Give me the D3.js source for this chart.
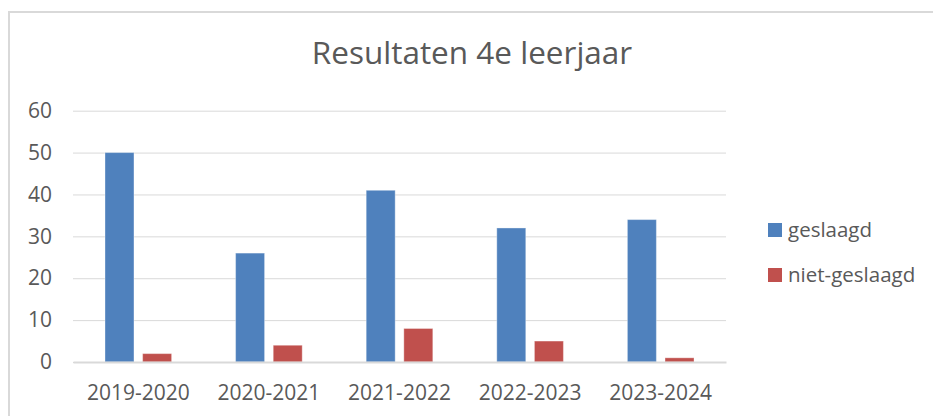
<!DOCTYPE html>
<html>
<head>
<meta charset="utf-8">
<script src="https://cdn.jsdelivr.net/npm/d3@7"></script>
<style>
  html, body { margin: 0; padding: 0; background: #fff; }
  svg { display: block; }
  text { font-family: "Open Sans", "Liberation Sans", sans-serif; fill: #595959; }
</style>
</head>
<body>
<svg id="chart" width="933" height="416"></svg>
<script>
const categories = ["2019-2020", "2020-2021", "2021-2022", "2022-2023", "2023-2024"];
const seriesNames = ["geslaagd", "niet-geslaagd"];
const geslaagd = [50, 26, 41, 32, 34];
const nietGeslaagd = [2, 4, 8, 5, 1];
const yTicks = [0, 10, 20, 30, 40, 50, 60];
const titleText = "Resultaten 4e leerjaar";
const colors = ["#4F81BD", "#C0504D"];

const svg = d3.select("#chart");
const FONT = "'Open Sans', 'Liberation Sans', sans-serif";

// chart area border
svg.append("rect")
  .attr("x", 9).attr("y", 12).attr("width", 940).attr("height", 420)
  .attr("fill", "#fff").attr("stroke", "#d9d9d9").attr("stroke-width", 2);

// title
svg.append("text")
  .attr("x", 472).attr("y", 64)
  .attr("text-anchor", "middle")
  .attr("font-size", 31.5)
  .text(titleText);

const x = d3.scaleBand().domain(categories).range([73, 726]).padding(0);
const xSub = d3.scaleBand().domain(seriesNames)
  .range([x.bandwidth() * 0.245, x.bandwidth() * 0.755]).paddingInner(0.23);
const y = d3.scaleLinear().domain([0, 60]).range([362, 110.7]);

// gridlines + y labels
const yAxis = d3.axisLeft(y).tickValues(yTicks).tickSize(-(726 - 73)).tickPadding(21);
const gy = svg.append("g").attr("transform", "translate(73,0)").call(yAxis);
gy.select(".domain").remove();
gy.selectAll(".tick line").attr("stroke", "#d9d9d9").attr("stroke-width", 1);
gy.selectAll(".tick text").attr("font-size", 21).attr("fill", "#595959")
  .style("font-family", FONT);

// bars
const data = categories.map((c, i) => ({ cat: c, vals: [
  { s: seriesNames[0], v: geslaagd[i], c: colors[0] },
  { s: seriesNames[1], v: nietGeslaagd[i], c: colors[1] }
]}));
const groups = svg.append("g").selectAll("g").data(data).join("g")
  .attr("transform", d => `translate(${x(d.cat)},0)`);
groups.selectAll("rect").data(d => d.vals).join("rect")
  .attr("x", d => xSub(d.s))
  .attr("width", xSub.bandwidth())
  .attr("y", d => y(d.v))
  .attr("height", d => y(0) - y(d.v))
  .attr("fill", d => d.c)
  .attr("stroke", "#ffffff").attr("stroke-opacity", 0.35).attr("stroke-width", 1);

// x axis
const xAxis = d3.axisBottom(x).tickSize(0).tickPadding(23);
const gx = svg.append("g").attr("transform", "translate(0,362)").call(xAxis);
gx.select(".domain").attr("stroke", "#d9d9d9").attr("stroke-width", 2);
gx.selectAll(".tick text").attr("font-size", 21).attr("fill", "#595959")
  .style("font-family", FONT);

// legend
const legend = svg.append("g");
const legY = d3.scalePoint().domain(seriesNames).range([230, 275]);
seriesNames.forEach((s, i) => {
  legend.append("rect").attr("x", 768).attr("y", legY(s) - 7)
    .attr("width", 14).attr("height", 14).attr("fill", colors[i]);
  legend.append("text").attr("x", 788).attr("y", legY(s))
    .attr("dy", "0.35em").attr("font-size", 20.5).text(s);
});
</script>
</body>
</html>
